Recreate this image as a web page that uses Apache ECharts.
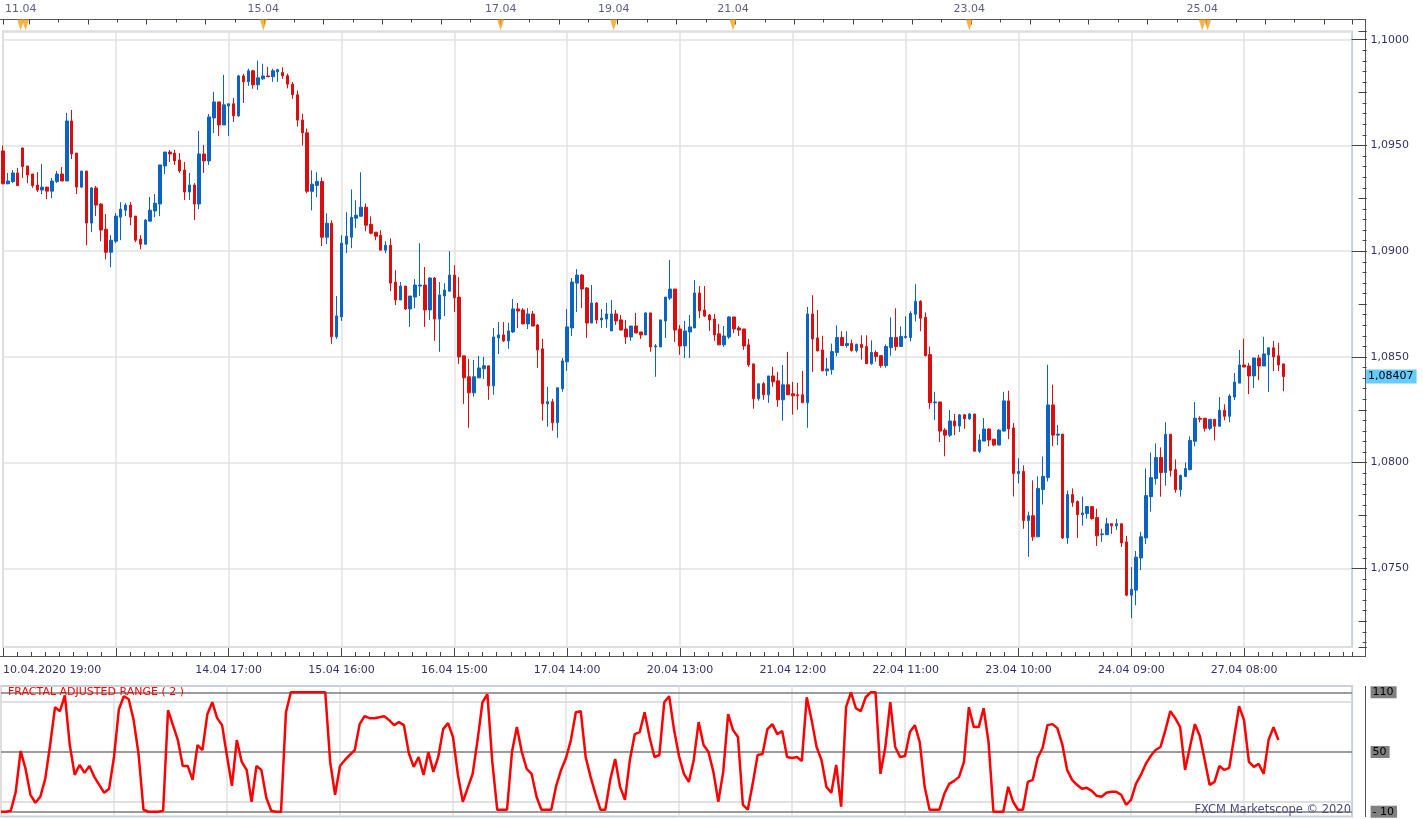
<!DOCTYPE html>
<html>
<head>
<meta charset="utf-8">
<script src="https://cdn.jsdelivr.net/npm/echarts@6/dist/echarts.min.js"></script>
<style>
  html, body { margin: 0; padding: 0; background: #fff; }
  #main { width: 1423px; height: 819px; }
</style>
</head>
<body>
<div id="main"></div>
<script>
// bottom time labels, one every 23 hourly bars ('' = hidden by overlap)
var timeLabels = ['10.04.2020 19:00', '', '14.04 17:00', '15.04 16:00', '16.04 15:00', '17.04 14:00',
  '20.04 13:00', '21.04 12:00', '22.04 11:00', '23.04 10:00', '24.04 09:00', '27.04 08:00'];
var barCount = 276; // visible slots incl. empty space on the right

// EUR/USD H1: [open, high, low, close]
var ohlc = [
  [1.09474,1.09500,1.09316,1.09319],[1.09319,1.09370,1.09316,1.09332],[1.09329,1.09384,1.09322,1.09370],[1.09370,1.09393,1.09310,1.09310],
  [1.09488,1.09490,1.09346,1.09400],[1.09403,1.09403,1.09322,1.09360],[1.09365,1.09365,1.09300,1.09310],[1.09313,1.09374,1.09280,1.09289],
  [1.09289,1.09412,1.09270,1.09303],[1.09303,1.09303,1.09246,1.09284],[1.09284,1.09346,1.09251,1.09332],[1.09329,1.09379,1.09322,1.09365],
  [1.09365,1.09398,1.09332,1.09332],[1.09332,1.09654,1.09332,1.09616],[1.09616,1.09668,1.09436,1.09460],[1.09464,1.09464,1.09270,1.09303],
  [1.09303,1.09379,1.09299,1.09379],[1.09379,1.09379,1.09028,1.09133],[1.09133,1.09303,1.09090,1.09299],[1.09299,1.09308,1.09166,1.09218],
  [1.09223,1.09227,1.09047,1.09100],[1.09104,1.09175,1.08962,1.08995],[1.08995,1.09076,1.08924,1.09052],[1.09047,1.09180,1.09038,1.09166],
  [1.09161,1.09232,1.09052,1.09199],[1.09194,1.09227,1.09166,1.09218],[1.09218,1.09232,1.09123,1.09161],[1.09166,1.09166,1.09043,1.09052],
  [1.09057,1.09076,1.09009,1.09033],[1.09033,1.09152,1.09033,1.09147],[1.09142,1.09256,1.09142,1.09194],[1.09190,1.09270,1.09161,1.09227],
  [1.09223,1.09408,1.09166,1.09408],[1.09403,1.09469,1.09365,1.09469],[1.09469,1.09479,1.09422,1.09460],[1.09464,1.09479,1.09408,1.09427],
  [1.09431,1.09464,1.09370,1.09379],[1.09384,1.09422,1.09242,1.09280],[1.09280,1.09370,1.09242,1.09313],[1.09313,1.09322,1.09147,1.09223],
  [1.09223,1.09569,1.09199,1.09460],[1.09460,1.09502,1.09370,1.09427],[1.09427,1.09649,1.09408,1.09635],[1.09630,1.09754,1.09559,1.09706],
  [1.09706,1.09706,1.09545,1.09597],[1.09597,1.09834,1.09597,1.09692],[1.09687,1.09697,1.09545,1.09697],[1.09697,1.09725,1.09611,1.09640],
  [1.09640,1.09834,1.09635,1.09829],[1.09829,1.09839,1.09701,1.09801],[1.09801,1.09863,1.09782,1.09853],[1.09853,1.09858,1.09768,1.09787],
  [1.09787,1.09901,1.09763,1.09820],[1.09815,1.09886,1.09811,1.09829],[1.09829,1.09872,1.09825,1.09825],[1.09825,1.09863,1.09801,1.09853],
  [1.09848,1.09863,1.09801,1.09858],[1.09845,1.09870,1.09815,1.09830],[1.09830,1.09840,1.09770,1.09790],[1.09790,1.09800,1.09720,1.09740],
  [1.09740,1.09760,1.09590,1.09620],[1.09620,1.09650,1.09500,1.09560],[1.09560,1.09580,1.09274,1.09283],[1.09283,1.09382,1.09193,1.09317],
  [1.09311,1.09373,1.09255,1.09330],[1.09330,1.09349,1.09024,1.09066],[1.09066,1.09179,1.09033,1.09132],[1.09132,1.09146,1.08562,1.08595],
  [1.08595,1.08788,1.08585,1.08694],[1.08689,1.09075,1.08670,1.09038],[1.09033,1.09184,1.08991,1.09071],[1.09066,1.09292,1.09014,1.09160],
  [1.09156,1.09241,1.09109,1.09170],[1.09165,1.09373,1.09165,1.09208],[1.09208,1.09226,1.09094,1.09123],[1.09127,1.09165,1.09080,1.09085],
  [1.09090,1.09090,1.09052,1.09071],[1.09075,1.09099,1.09005,1.09005],[1.09005,1.09047,1.08991,1.09028],[1.09028,1.09061,1.08811,1.08849],
  [1.08854,1.08910,1.08745,1.08769],[1.08769,1.08854,1.08769,1.08835],[1.08835,1.08835,1.08722,1.08727],[1.08727,1.08788,1.08642,1.08788],
  [1.08783,1.08868,1.08731,1.08840],[1.08835,1.09038,1.08788,1.08840],[1.08840,1.08925,1.08642,1.08722],[1.08722,1.08877,1.08675,1.08873],
  [1.08873,1.08877,1.08576,1.08679],[1.08679,1.08854,1.08524,1.08793],[1.08788,1.08849,1.08693,1.08816],[1.08811,1.09000,1.08811,1.08887],
  [1.08887,1.08934,1.08712,1.08779],[1.08783,1.08877,1.08467,1.08500],[1.08505,1.08505,1.08278,1.08401],[1.08406,1.08491,1.08165,1.08330],
  [1.08330,1.08486,1.08312,1.08406],[1.08401,1.08505,1.08401,1.08448],[1.08444,1.08500,1.08396,1.08458],[1.08458,1.08458,1.08297,1.08363],
  [1.08363,1.08637,1.08321,1.08594],[1.08590,1.08665,1.08514,1.08604],[1.08604,1.08665,1.08571,1.08576],[1.08576,1.08661,1.08538,1.08623],
  [1.08618,1.08774,1.08613,1.08727],[1.08727,1.08755,1.08637,1.08717],[1.08722,1.08731,1.08656,1.08656],[1.08656,1.08731,1.08632,1.08703],
  [1.08703,1.08717,1.08646,1.08646],[1.08651,1.08656,1.08448,1.08533],[1.08538,1.08585,1.08198,1.08278],[1.08278,1.08359,1.08170,1.08288],
  [1.08288,1.08302,1.08151,1.08189],[1.08189,1.08354,1.08118,1.08354],[1.08349,1.08495,1.08335,1.08481],[1.08477,1.08726,1.08434,1.08642],
  [1.08637,1.08873,1.08599,1.08854],[1.08849,1.08915,1.08712,1.08887],[1.08887,1.08892,1.08731,1.08821],[1.08826,1.08830,1.08590,1.08660],
  [1.08660,1.08840,1.08660,1.08755],[1.08755,1.08759,1.08656,1.08675],[1.08675,1.08726,1.08637,1.08684],[1.08679,1.08755,1.08637,1.08703],
  [1.08623,1.08769,1.08623,1.08703],[1.08703,1.08722,1.08651,1.08670],[1.08675,1.08698,1.08627,1.08627],[1.08632,1.08675,1.08561,1.08594],
  [1.08594,1.08646,1.08576,1.08646],[1.08646,1.08708,1.08613,1.08613],[1.08618,1.08618,1.08585,1.08604],[1.08604,1.08712,1.08604,1.08708],
  [1.08708,1.08708,1.08524,1.08547],[1.08547,1.08561,1.08406,1.08552],[1.08547,1.08675,1.08547,1.08675],[1.08670,1.08783,1.08590,1.08783],
  [1.08778,1.08958,1.08769,1.08821],[1.08821,1.08821,1.08571,1.08627],[1.08632,1.08651,1.08510,1.08552],[1.08552,1.08670,1.08495,1.08623],
  [1.08618,1.08698,1.08495,1.08642],[1.08637,1.08863,1.08637,1.08802],[1.08802,1.08835,1.08684,1.08717],[1.08722,1.08835,1.08689,1.08693],
  [1.08698,1.08703,1.08623,1.08675],[1.08679,1.08703,1.08576,1.08604],[1.08609,1.08656,1.08557,1.08557],[1.08557,1.08646,1.08547,1.08599],
  [1.08594,1.08693,1.08585,1.08689],[1.08689,1.08689,1.08613,1.08632],[1.08637,1.08646,1.08599,1.08627],[1.08632,1.08632,1.08533,1.08552],
  [1.08557,1.08585,1.08453,1.08462],[1.08467,1.08467,1.08255,1.08302],[1.08302,1.08373,1.08293,1.08373],[1.08373,1.08382,1.08297,1.08321],
  [1.08321,1.08410,1.08283,1.08410],[1.08410,1.08453,1.08359,1.08382],[1.08387,1.08429,1.08264,1.08297],[1.08297,1.08462,1.08198,1.08368],
  [1.08368,1.08524,1.08321,1.08321],[1.08326,1.08382,1.08227,1.08316],[1.08321,1.08377,1.08250,1.08316],[1.08321,1.08434,1.08283,1.08283],
  [1.08283,1.08736,1.08165,1.08703],[1.08703,1.08792,1.08429,1.08585],[1.08590,1.08722,1.08528,1.08528],[1.08533,1.08600,1.08434,1.08434],
  [1.08434,1.08495,1.08410,1.08443],[1.08440,1.08563,1.08416,1.08525],[1.08521,1.08649,1.08502,1.08592],[1.08592,1.08621,1.08554,1.08554],
  [1.08554,1.08621,1.08544,1.08563],[1.08563,1.08582,1.08525,1.08530],[1.08530,1.08563,1.08521,1.08559],[1.08559,1.08602,1.08487,1.08544],
  [1.08549,1.08602,1.08468,1.08468],[1.08468,1.08578,1.08463,1.08521],[1.08521,1.08530,1.08478,1.08502],[1.08506,1.08506,1.08449,1.08459],
  [1.08459,1.08559,1.08449,1.08549],[1.08544,1.08687,1.08506,1.08592],[1.08592,1.08730,1.08530,1.08549],[1.08549,1.08644,1.08549,1.08597],
  [1.08592,1.08692,1.08587,1.08597],[1.08592,1.08716,1.08573,1.08706],[1.08702,1.08844,1.08668,1.08763],[1.08763,1.08768,1.08621,1.08683],
  [1.08687,1.08711,1.08502,1.08506],[1.08511,1.08549,1.08254,1.08283],[1.08283,1.08335,1.08202,1.08287],[1.08287,1.08287,1.08097,1.08149],
  [1.08154,1.08163,1.08030,1.08130],[1.08130,1.08249,1.08121,1.08197],[1.08197,1.08230,1.08130,1.08173],[1.08173,1.08230,1.08145,1.08226],
  [1.08226,1.08230,1.08160,1.08207],[1.08207,1.08235,1.08202,1.08230],[1.08230,1.08230,1.08054,1.08054],[1.08054,1.08135,1.08045,1.08107],
  [1.08102,1.08211,1.08102,1.08159],[1.08159,1.08163,1.08078,1.08107],[1.08111,1.08111,1.08078,1.08083],[1.08083,1.08159,1.08083,1.08154],
  [1.08149,1.08335,1.08149,1.08292],[1.08292,1.08340,1.08111,1.08159],[1.08164,1.08187,1.07840,1.07949],[1.07949,1.08021,1.07902,1.07958],
  [1.07958,1.07987,1.07687,1.07726],[1.07726,1.07768,1.07554,1.07749],[1.07749,1.07916,1.07630,1.07649],[1.07649,1.07935,1.07649,1.07878],
  [1.07873,1.08029,1.07802,1.07935],[1.07930,1.08463,1.07911,1.08273],[1.08273,1.08368,1.08078,1.08130],[1.08130,1.08178,1.08083,1.08135],
  [1.08135,1.08135,1.07639,1.07644],[1.07644,1.07868,1.07616,1.07849],[1.07849,1.07878,1.07791,1.07811],[1.07816,1.07821,1.07644,1.07754],
  [1.07754,1.07840,1.07702,1.07762],[1.07759,1.07792,1.07735,1.07792],[1.07792,1.07792,1.07731,1.07735],[1.07740,1.07782,1.07606,1.07654],
  [1.07659,1.07687,1.07625,1.07663],[1.07659,1.07739,1.07659,1.07711],[1.07711,1.07711,1.07663,1.07701],[1.07701,1.07734,1.07682,1.07711],
  [1.07711,1.07711,1.07601,1.07620],[1.07625,1.07654,1.07368,1.07373],[1.07373,1.07506,1.07264,1.07401],[1.07397,1.07582,1.07325,1.07553],
  [1.07549,1.07673,1.07492,1.07649],[1.07644,1.07972,1.07615,1.07844],[1.07839,1.08048,1.07768,1.07929],[1.07925,1.08091,1.07896,1.08024],
  [1.08024,1.08072,1.07839,1.07953],[1.07953,1.08191,1.07891,1.08134],[1.08134,1.08134,1.07934,1.07963],[1.07967,1.08015,1.07858,1.07872],
  [1.07872,1.07944,1.07839,1.07939],[1.07934,1.08001,1.07934,1.07972],[1.07967,1.08124,1.07963,1.08105],[1.08101,1.08286,1.08077,1.08210],
  [1.08210,1.08219,1.08191,1.08205],[1.08210,1.08210,1.08147,1.08162],[1.08162,1.08205,1.08153,1.08205],[1.08205,1.08205,1.08105,1.08172],
  [1.08172,1.08310,1.08172,1.08248],[1.08248,1.08276,1.08200,1.08219],[1.08219,1.08324,1.08191,1.08315],[1.08310,1.08424,1.08296,1.08381],
  [1.08376,1.08533,1.08376,1.08462],[1.08462,1.08586,1.08452,1.08452],[1.08457,1.08471,1.08324,1.08410],[1.08410,1.08495,1.08353,1.08495],
  [1.08495,1.08510,1.08391,1.08457],[1.08457,1.08595,1.08457,1.08514],[1.08510,1.08543,1.08334,1.08543],[1.08543,1.08576,1.08433,1.08500],
  [1.08505,1.08567,1.08433,1.08462],[1.08467,1.08467,1.08338,1.08407]
];

// FRACTAL ADJUSTED RANGE (2)
var farValues = [
  -10,-10,-9,10,51,33,7,-1,5,23, 57,95,91,107,57,27,37,29,36,25,
  17,9,13,45,93,106,103,82,48,-8, -10,-10,-10,-9,92,77,62,36,36,22,
  57,52,88,100,84,77,46,16,62,40, 32,0,36,32,4,-9,-10,-10,90,110,
  110,110,110,110,110,110,110,40,7,36, 42,47,52,78,86,84,84,85,86,82,
  77,80,77,49,35,45,27,50,30,45, 73,79,65,27,0,14,28,62,100,108,
  40,-8,-8,-8,50,75,50,33,28,5, -8,-8,-8,16,32,44,62,90,91,45,
  25,8,-8,-8,22,43,15,2,42,68, 70,90,65,45,47,100,106,72,46,28,
  20,42,80,57,50,30,0,30,88,72, 65,-3,-8,18,47,48,73,78,68,71,
  45,44,45,41,105,82,55,42,15,9, 37,-5,95,110,94,91,105,110,110,28,
  55,100,55,45,46,70,77,60,15,-8, -8,-8,8,18,21,25,40,95,75,75,
  94,60,-10,-10,-10,15,0,-8,-8,20, 22,44,54,77,78,74,58,32,22,17,
  13,14,11,6,5,9,10,10,7,-3, 2,18,27,38,46,52,55,72,91,84,
  75,32,55,78,66,42,17,20,36,32, 34,65,96,82,40,35,38,28,62,75,
  62
];

// event markers on the top date strip (bar position, label)
var eventBars = [4.0, 5.0, 53.4, 101.7, 124.7, 149.0, 197.1, 244.5, 245.6];
var eventLabels = ['11.04', '', '15.04', '17.04', '19.04', '21.04', '23.04', '25.04', ''];

var farLevels = [110, 50, -10];
var farLightLevels = [100, 0];

var myChart = echarts.init(document.getElementById('main'));

var cats = [];
for (var i = 0; i < barCount; i++) {
  cats.push(i % 23 === 0 && timeLabels[i / 23] !== undefined ? (timeLabels[i / 23] || 'h' + i) : 'b' + i);
}
var labelAt = function (v, idx) {
  return idx % 23 === 0 ? (timeLabels[idx / 23] || '') : '';
};
var candleData = ohlc.map(function (r) { return [r[0], r[3], r[2], r[1]]; });
var lastClose = ohlc[ohlc.length - 1][3];

var txtColor = '#33336b';
var tickColor = '#444';
var gridColor = '#e2e2e2';
var font = 'DejaVu Sans';
var L = 1, W = 1351.1;
var noLine = { show: false, onZero: false };

var option = {
  animation: false,
  backgroundColor: '#fff',
  textStyle: { fontFamily: font },
  grid: [
    { left: L, top: 31.5, width: W, height: 615.5, show: true, borderColor: '#c9d2dc', borderWidth: 2, backgroundColor: '#fff' },
    { left: L, top: 686, width: W, height: 130.5, show: true, borderColor: '#c9d2dc', borderWidth: 2, backgroundColor: '#fff' },
    { left: L, top: 19, width: W, height: 12 }
  ],
  xAxis: [
    {
      type: 'category', gridIndex: 0, data: cats, boundaryGap: false, position: 'bottom', offset: 10,
      axisLine: noLine,
      axisTick: { show: true, inside: true, length: 9, interval: 22, lineStyle: { color: tickColor } },
      axisLabel: { interval: 22, formatter: labelAt, color: txtColor, fontSize: 11, margin: 8, alignMinLabel: 'left' },
      splitLine: { show: true, interval: 22, lineStyle: { color: gridColor, width: 1.5 } }
    },
    {
      type: 'value', gridIndex: 0, min: 0, max: barCount - 1, interval: 23 / 8, position: 'bottom', offset: 10,
      axisLine: noLine, axisTick: { inside: true, length: 5, lineStyle: { color: tickColor } },
      axisLabel: { show: false }, splitLine: { show: false }
    },
    {
      type: 'value', gridIndex: 0, min: -5.3, max: barCount - 1 - 5.3, minInterval: 12, maxInterval: 12,
      position: 'top', offset: 12, axisLine: noLine,
      axisTick: { inside: true, length: 5, lineStyle: { color: tickColor } },
      minorTick: { show: true, splitNumber: 2, length: 3, lineStyle: { color: tickColor } },
      axisLabel: { show: false }, splitLine: { show: false }
    },
    { type: 'value', gridIndex: 2, min: 0, max: barCount - 1, show: false, axisLine: noLine },
    {
      type: 'category', gridIndex: 1, data: cats, boundaryGap: false,
      axisLine: noLine, axisTick: { show: false }, axisLabel: { show: false },
      splitLine: { show: true, interval: 22, lineStyle: { color: gridColor, width: 1.5 } }
    }
  ],
  yAxis: [
    {
      type: 'value', gridIndex: 0, min: 1.07128, max: 1.10039, minInterval: 0.005, maxInterval: 0.005,
      position: 'right', offset: 14.5, axisLine: noLine,
      axisTick: { inside: true, length: 15, lineStyle: { color: tickColor } },
      axisLabel: {
        color: txtColor, fontSize: 11, margin: 4, showMinLabel: false, showMaxLabel: false,
        formatter: function (v) { return v.toFixed(4).replace('.', ','); }
      },
      splitLine: { lineStyle: { color: gridColor, width: 1.5 } }
    },
    {
      type: 'value', gridIndex: 0, min: 1.07128, max: 1.10039, minInterval: 0.0025, maxInterval: 0.0025,
      position: 'right', offset: 14.5, axisLine: noLine,
      axisTick: { inside: true, length: 8, lineStyle: { color: tickColor } },
      axisLabel: { show: false }, splitLine: { show: false }
    },
    {
      type: 'value', gridIndex: 0, min: 1.07128, max: 1.10039, minInterval: 0.0005, maxInterval: 0.0005,
      position: 'right', offset: 14.5, axisLine: noLine,
      axisTick: { inside: true, length: 4, lineStyle: { color: tickColor } },
      axisLabel: { show: false }, splitLine: { show: false }
    },
    {
      type: 'value', gridIndex: 1, min: -14.8, max: 116.3, minInterval: 10, maxInterval: 10,
      position: 'right', offset: 14.5, axisLine: noLine,
      axisTick: { inside: true, length: 4, lineStyle: { color: tickColor } },
      axisLabel: {
        customValues: farLevels, color: '#000', fontSize: 11, margin: 4,
        backgroundColor: '#808080', padding: [1, 3, 0, 2],
        formatter: function (v) { return v < 0 ? '- ' + (-v) : String(v); }
      },
      splitLine: { show: false }
    },
    {
      type: 'value', gridIndex: 1, min: -14.8, max: 116.3, minInterval: 100, maxInterval: 100,
      position: 'right', offset: 14.5, axisLine: noLine,
      axisTick: { inside: true, length: 14, lineStyle: { color: tickColor } },
      axisLabel: { show: false }, splitLine: { show: false }
    },
    { type: 'value', gridIndex: 2, min: 0, max: 1, show: false, axisLine: noLine }
  ],
  series: [
    {
      type: 'candlestick', xAxisIndex: 0, yAxisIndex: 0, data: candleData, barWidth: 3,
      itemStyle: { color: '#0b63c5', color0: '#dc0d0d', borderColor: '#0b63c5', borderColor0: '#dc0d0d', borderWidth: 1 },
      markLine: {
        silent: true, symbol: ['none', 'none'], precision: 5,
        lineStyle: { color: 'rgba(0,0,0,0)', width: 0 },
        label: {
          position: 'end', distance: 14, color: '#000', fontSize: 11,
          backgroundColor: '#66ccff', padding: [2, 3, 1, 2],
          formatter: function (p) { return Number(p.value).toFixed(5).replace('.', ','); }
        },
        data: [{ yAxis: lastClose }]
      }
    },
    {
      type: 'line', xAxisIndex: 4, yAxisIndex: 3, data: [], z: 1,
      markLine: {
        silent: true, symbol: ['none', 'none'], label: { show: false },
        data: farLevels.map(function (v) { return { yAxis: v, lineStyle: { color: '#7b7b7b', width: 1.5, type: 'solid' } }; })
          .concat(farLightLevels.map(function (v) { return { yAxis: v, lineStyle: { color: '#d6d6d6', width: 1.5, type: 'solid' } }; }))
      }
    },
    {
      type: 'line', xAxisIndex: 4, yAxisIndex: 3, data: farValues, z: 5,
      symbol: 'none', lineStyle: { color: '#ff0000', width: 2.5 }
    },
    {
      type: 'scatter', xAxisIndex: 3, yAxisIndex: 5,
      symbol: 'path://M0,0L10,0L5,14Z', symbolSize: [7, 11],
      itemStyle: { color: '#f5a01a' },
      data: eventBars.map(function (b, k) {
        return {
          value: [b, 0.5],
          label: { show: !!eventLabels[k], formatter: eventLabels[k], position: 'top', distance: 5, color: txtColor, fontSize: 11 }
        };
      })
    }
  ],
  graphic: [
    { type: 'line', shape: { x1: 0, y1: 19.5, x2: 1366, y2: 19.5 }, style: { stroke: '#555', lineWidth: 1 }, silent: true },
    { type: 'line', shape: { x1: 1365.5, y1: 19, x2: 1365.5, y2: 657 }, style: { stroke: '#555', lineWidth: 1 }, silent: true },
    { type: 'line', shape: { x1: 0, y1: 656.5, x2: 1366, y2: 656.5 }, style: { stroke: '#555', lineWidth: 1 }, silent: true },
    { type: 'line', shape: { x1: 1365.5, y1: 686, x2: 1365.5, y2: 817 }, style: { stroke: '#555', lineWidth: 1 }, silent: true },
    { type: 'text', left: 8, top: 687, z: 10, silent: true,
      style: { text: 'FRACTAL ADJUSTED RANGE ( 2 )', fill: '#ff0000', font: '11px "DejaVu Sans"' } },
    { type: 'text', right: 72, top: 804, z: 10, silent: true,
      style: { text: 'FXCM Marketscope \u00a9 2020', fill: '#4a4a85', font: '11.5px "DejaVu Sans"' } }
  ]
};

myChart.setOption(option);
</script>
</body>
</html>
